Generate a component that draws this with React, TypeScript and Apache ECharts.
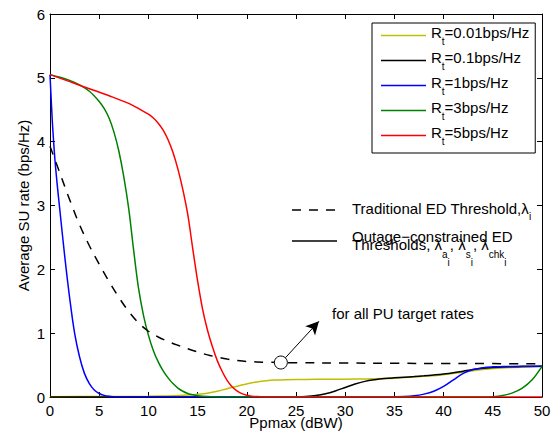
import { useEffect, useRef } from 'react';
import * as echarts from 'echarts';

const FONT = 'Liberation Sans, Arial, Helvetica, sans-serif';

// Target-rate labels (legend) and colours
const rtValues = ['0.01', '0.1', '1', '3', '5'];
const rtColors = ['#bfbf00', '#000000', '#0000ff', '#008000', '#ff0000'];

// Ppmax (dBW), average SU rate (bps/Hz)
const rt001: [number, number][] = [
  [0, 0.005], [5, 0.007], [10, 0.012], [12, 0.017], [13, 0.022], [14, 0.03], [15, 0.042],
  [16, 0.06], [17, 0.09], [18, 0.13], [19, 0.17], [20, 0.205], [21, 0.235], [22, 0.255],
  [23, 0.265], [24, 0.27], [26, 0.275], [28, 0.278], [30, 0.28], [32, 0.283], [34, 0.29],
  [35, 0.295], [36, 0.305], [38, 0.325], [40, 0.35], [42, 0.39], [43, 0.41], [44, 0.43],
  [45, 0.445], [46, 0.455], [48, 0.468], [50, 0.478],
];
const rt01: [number, number][] = [
  [0, 0], [10, 0], [20, 0], [24, 0], [25, 0.002], [26, 0.008], [27, 0.022], [28, 0.05],
  [29, 0.095], [30, 0.15], [31, 0.205], [32, 0.245], [33, 0.27], [34, 0.288], [35, 0.3],
  [36, 0.31], [37, 0.32], [38, 0.332], [39, 0.345], [40, 0.36], [41, 0.38], [42, 0.405],
  [43, 0.43], [44, 0.45], [45, 0.462], [46, 0.47], [48, 0.476], [50, 0.48],
];
const rt1: [number, number][] = [
  [0, 5.05], [0.25, 4.28], [0.5, 3.72], [0.75, 3.3], [1, 2.93], [1.5, 2.2], [2, 1.55],
  [2.5, 1.0], [3, 0.63], [3.5, 0.37], [4, 0.21], [4.5, 0.11], [5, 0.055], [5.5, 0.025],
  [6, 0.01], [6.5, 0.004], [7, 0.0015], [8, 0], [15, 0], [25, 0], [34, 0], [35, 0.002],
  [36, 0.006], [37, 0.018], [38, 0.045], [39, 0.09], [40, 0.165], [41, 0.27], [42, 0.37],
  [43, 0.43], [44, 0.46], [45, 0.472], [46, 0.476], [48, 0.48], [50, 0.483],
];
const rt3: [number, number][] = [
  [0, 5.05], [1, 5.01], [2, 4.96], [3, 4.89], [4, 4.79], [5, 4.63], [5.5, 4.52], [6, 4.37],
  [6.5, 4.15], [7, 3.85], [7.5, 3.45], [8, 2.95], [8.5, 2.3], [9, 1.7], [9.5, 1.28],
  [10, 0.97], [10.5, 0.73], [11, 0.55], [11.5, 0.41], [12, 0.3], [12.5, 0.21], [13, 0.14],
  [13.5, 0.09], [14, 0.056], [14.5, 0.034], [15, 0.02], [16, 0.006], [17, 0.001], [18, 0],
  [30, 0], [44, 0], [45, 0.005], [46, 0.025], [47, 0.065], [48, 0.14], [49, 0.27], [50, 0.48],
];
const rt5: [number, number][] = [
  [0, 5.05], [2, 4.94], [4, 4.83], [6, 4.72], [8, 4.6], [9, 4.52], [10, 4.43], [10.5, 4.37],
  [11, 4.29], [11.5, 4.18], [12, 4.03], [12.5, 3.83], [13, 3.57], [13.5, 3.25], [14, 2.86],
  [14.5, 2.33], [15, 1.82], [15.5, 1.38], [16, 1.05], [16.5, 0.79], [17, 0.57], [17.5, 0.4],
  [18, 0.26], [18.5, 0.16], [19, 0.095], [19.5, 0.052], [20, 0.027], [20.5, 0.013],
  [21, 0.006], [22, 0.001], [23, 0], [35, 0], [50, 0],
];
const traditional: [number, number][] = [
  [0, 3.93], [1, 3.51], [2, 3.09], [3, 2.7], [4, 2.37], [5, 2.08], [6, 1.81], [7, 1.56],
  [8, 1.34], [9, 1.16], [10, 1.03], [11, 0.94], [12, 0.87], [13, 0.81], [14, 0.755],
  [15, 0.705], [16, 0.66], [17, 0.625], [18, 0.595], [19, 0.572], [20, 0.556], [22, 0.545],
  [25, 0.537], [30, 0.532], [35, 0.528], [40, 0.525], [45, 0.523], [50, 0.522],
];

const rtData = [rt001, rt01, rt1, rt3, rt5];

// Annotation anchors (data coordinates)
const circleAt: [number, number] = [23.46, 0.54];
const arrowFrom: [number, number] = [23.92, 0.614];
const arrowTo: [number, number] = [27.33, 1.186];

const txt = (size: number, extra: any = {}) => ({
  fontSize: size, fontFamily: FONT, fill: '#000', color: '#000', verticalAlign: 'top', ...extra,
});

export default function App() {
  const ref = useRef<HTMLDivElement>(null);
  useEffect(() => {
    const chart = echarts.init(ref.current!, null, { renderer: 'svg' });
    const names = rtValues.map((v) => `Rt=${v}bps/Hz`);

    const axisBase = {
      type: 'value',
      nameMoveOverlap: false,
      axisLine: { show: true, onZero: false, lineStyle: { color: '#000', width: 1 } },
      axisTick: { show: true, inside: true, length: 5, lineStyle: { color: '#000', width: 1 } },
      splitLine: { show: false },
    };
    const labelStyle = { fontSize: 15, color: '#000', fontFamily: FONT };

    const series: any[] = rtData.map((d, i) => ({
      type: 'line',
      name: names[i],
      data: d,
      symbol: 'none',
      showSymbol: false,
      smooth: 0.35,
      lineStyle: { color: rtColors[i], width: 1.5 },
      itemStyle: { color: rtColors[i] },
      emphasis: { disabled: true },
    }));
    series.push({
      type: 'line',
      name: 'Traditional',
      data: traditional,
      symbol: 'none',
      showSymbol: false,
      smooth: 0.35,
      lineStyle: { color: '#000', width: 1.5, type: [9, 8] },
      itemStyle: { color: '#000' },
      emphasis: { disabled: true },
      markLine: {
        silent: true,
        symbol: ['none', 'arrow'],
        symbolSize: [10, 13],
        lineStyle: { color: '#000', width: 1, type: 'solid' },
        label: { show: false },
        emphasis: { disabled: true },
        data: [[{ coord: arrowFrom }, { coord: arrowTo }]],
      },
      markPoint: {
        silent: true,
        symbol: 'circle',
        symbolSize: 13,
        itemStyle: { color: '#fff', borderColor: '#000', borderWidth: 1 },
        label: { show: false },
        data: [{ coord: circleAt }],
      },
    });

    const subRich = {
      m: txt(15),
      s: txt(10, { padding: [10.5, 0, 0, 0] }),
    };
    const lamRich = {
      m: txt(15),
      s: txt(10, { padding: [12.5, 0, 0, 0] }),
      ss: txt(10, { padding: [20.5, 0, 0, 0] }),
    };

    chart.setOption({
      animation: false,
      backgroundColor: '#fff',
      textStyle: { fontFamily: FONT },
      grid: { left: 50, top: 14, right: 14, bottom: 41, outerBoundsMode: 'none', containLabel: false },
      xAxis: [
        {
          ...axisBase, position: 'bottom', min: 0, max: 50, interval: 5,
          name: 'Ppmax (dBW)', nameLocation: 'middle', nameGap: 18, nameTextStyle: labelStyle,
          axisLabel: { ...labelStyle, margin: 6 },
        },
        { ...axisBase, position: 'top', min: 0, max: 50, interval: 5, axisLabel: { show: false } },
      ],
      yAxis: [
        {
          ...axisBase, position: 'left', min: 0, max: 6, interval: 1,
          name: 'Average SU rate (bps/Hz)', nameLocation: 'middle', nameGap: 19, nameRotate: 90,
          nameTextStyle: labelStyle,
          axisLabel: { ...labelStyle, margin: 5 },
        },
        { ...axisBase, position: 'right', min: 0, max: 6, interval: 1, axisLabel: { show: false } },
      ],
      legend: {
        data: names,
        orient: 'vertical',
        left: 372,
        top: 23,
        padding: [2, 6, 7, 9],
        icon: 'rect',
        itemWidth: 45,
        itemHeight: 1.5,
        itemGap: 4,
        borderColor: '#000',
        borderWidth: 1,
        backgroundColor: '#fff',
        selectedMode: false,
        formatter: (name: string) => `{m|R}{s|t}{m|${name.slice(2)}}`,
        textStyle: {
          color: '#000', fontSize: 15, fontFamily: FONT,
          rich: {
            m: { fontSize: 15, fontFamily: FONT, color: '#000', verticalAlign: 'top' },
            s: { fontSize: 10, fontFamily: FONT, color: '#000', verticalAlign: 'top', padding: [11, 0, 0, 0] },
          },
        },
      },
      graphic: [
        { type: 'line', silent: true, shape: { x1: 292, y1: 210, x2: 337, y2: 210 }, style: { stroke: '#000', lineWidth: 1.5, lineDash: [9, 8] } },
        { type: 'line', silent: true, shape: { x1: 292, y1: 241, x2: 337, y2: 241 }, style: { stroke: '#000', lineWidth: 1.5 } },
        { type: 'text', silent: true, x: 352, y: 200.5, style: { ...txt(15), text: '{m|Traditional ED Threshold,λ}{s|i}', rich: subRich } },
        { type: 'text', silent: true, x: 352, y: 228.5, style: { ...txt(15), text: 'Outage−constrained ED' } },
        { type: 'text', silent: true, x: 352, y: 236.5, style: { ...txt(15), text: '{m|Thresholds, λ}{s|a}{ss|i}{m|, λ}{s|s}{ss|i}{m|, λ}{s|chk}{ss|i}', rich: lamRich } },
        { type: 'text', silent: true, x: 332, y: 305.5, style: { ...txt(15), text: 'for all PU target rates' } },
      ],
      series,
    });
    return () => chart.dispose();
  }, []);
  return (
    <div
      ref={ref}
      style={{ position: 'fixed', left: 0, top: 0, width: 556, height: 438, background: '#fff' }}
    />
  );
}
